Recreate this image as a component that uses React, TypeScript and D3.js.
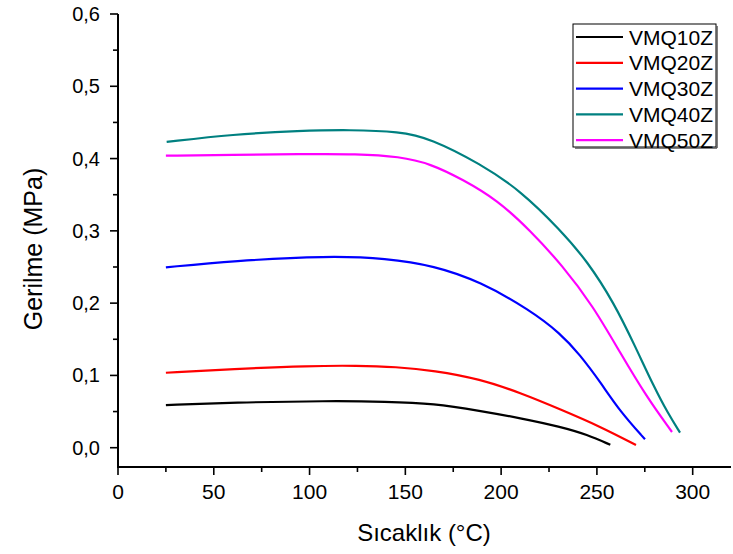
import React, { useEffect, useRef } from "react";
import * as d3 from "d3";

const seriesNames = ["VMQ10Z", "VMQ20Z", "VMQ30Z", "VMQ40Z", "VMQ50Z"];
const seriesColors = ["#000000", "#ff0000", "#0000ff", "#008080", "#ff00ff"];

const vmq10zX = [25, 60, 110, 140, 165, 189, 210, 231, 245, 257];
const vmq10zY = [0.059, 0.0625, 0.0648, 0.0638, 0.0612, 0.051, 0.041, 0.029, 0.018, 0.004];

const vmq20zX = [25, 60, 100, 125, 145, 165, 189, 210, 231, 252, 270.4];
const vmq20zY = [0.1037, 0.109, 0.1133, 0.1136, 0.1118, 0.1068, 0.095, 0.076, 0.053, 0.029, 0.0037];

const vmq30zX = [25, 60, 110, 140, 165, 189, 215, 231, 241, 252, 262, 275.1];
const vmq30zY = [0.2495, 0.2585, 0.2655, 0.262, 0.2518, 0.23, 0.1905, 0.158, 0.129, 0.09, 0.0505, 0.0116];

const vmq40zX = [25.4, 60, 95, 121, 147, 163, 189, 210, 231, 245, 259, 270, 280, 287, 293.4];
const vmq40zY = [0.423, 0.4335, 0.4385, 0.4398, 0.4375, 0.428, 0.393, 0.356, 0.301, 0.258, 0.2, 0.14, 0.083, 0.048, 0.0208];

const vmq50zX = [25, 60, 95, 125, 147, 163, 180, 198, 215, 232, 248, 262, 276, 289.2];
const vmq50zY = [0.404, 0.405, 0.4062, 0.4065, 0.4028, 0.393, 0.371, 0.3426, 0.301, 0.252, 0.196, 0.132, 0.07, 0.0217];

const xTicks = [0, 50, 100, 150, 200, 250, 300];
const yTicks = [0.0, 0.1, 0.2, 0.3, 0.4, 0.5, 0.6];
const xTitle = "Sıcaklık (°C)";
const yTitle = "Gerilme (MPa)";

const W = 733;
const H = 554;
const FONT = "Liberation Sans, Arial, sans-serif";

export default function App() {
  const ref = useRef<SVGSVGElement>(null);

  useEffect(() => {
    const svg = d3.select(ref.current);
    svg.selectAll("*").remove();

    const x = d3.scaleLinear().domain([0, 320]).range([118, 731]);
    const y = d3.scaleLinear().domain([0, 0.6]).range([447.7, 14]);
    const axisY = 467;

    const xs = [vmq10zX, vmq20zX, vmq30zX, vmq40zX, vmq50zX];
    const ys = [vmq10zY, vmq20zY, vmq30zY, vmq40zY, vmq50zY];

    const line = d3
      .line<[number, number]>()
      .x((d) => x(d[0]))
      .y((d) => y(d[1]))
      .curve(d3.curveBasis);

    const g = svg.append("g");
    xs.forEach((xa, i) => {
      const pts: [number, number][] = xa.map((v, j) => [v, ys[i][j]]);
      g.append("path")
        .attr("d", line(pts))
        .attr("fill", "none")
        .attr("stroke", seriesColors[i])
        .attr("stroke-width", 2.2)
        .attr("stroke-linecap", "butt");
    });

    // axes
    const ax = svg.append("g").attr("stroke", "#000").attr("stroke-width", 2);
    ax.append("line").attr("x1", x(0) - 1).attr("x2", x(320)).attr("y1", axisY).attr("y2", axisY);
    ax.append("line").attr("x1", x(0)).attr("x2", x(0)).attr("y1", axisY).attr("y2", y(0.6));

    const xMinor = d3.range(25, 320, 50);
    xTicks.forEach((t) => {
      ax.append("line").attr("x1", x(t)).attr("x2", x(t)).attr("y1", axisY).attr("y2", axisY + 8).attr("stroke-width", 1.6);
    });
    xMinor.forEach((t) => {
      ax.append("line").attr("x1", x(t)).attr("x2", x(t)).attr("y1", axisY).attr("y2", axisY + 5).attr("stroke-width", 1.6);
    });
    const yMinor = d3.range(0.05, 0.6, 0.1);
    yTicks.forEach((t) => {
      ax.append("line").attr("x1", x(0) - 8).attr("x2", x(0)).attr("y1", y(t)).attr("y2", y(t)).attr("stroke-width", 1.6);
    });
    yMinor.forEach((t) => {
      ax.append("line").attr("x1", x(0) - 5).attr("x2", x(0)).attr("y1", y(t)).attr("y2", y(t)).attr("stroke-width", 1.6);
    });

    const fmt = (v: number) => v.toFixed(1).replace(".", ",");
    svg
      .append("g")
      .selectAll("text")
      .data(xTicks)
      .join("text")
      .attr("x", (d) => x(d))
      .attr("y", 498.5)
      .attr("text-anchor", "middle")
      .attr("font-family", FONT)
      .attr("font-size", 21)
      .text((d) => String(d));
    svg
      .append("g")
      .selectAll("text")
      .data(yTicks)
      .join("text")
      .attr("x", 100)
      .attr("y", (d) => y(d) + 7)
      .attr("text-anchor", "end")
      .attr("font-family", FONT)
      .attr("font-size", 20)
      .text((d) => fmt(d));

    svg
      .append("text")
      .attr("x", 424)
      .attr("y", 541)
      .attr("text-anchor", "middle")
      .attr("font-family", FONT)
      .attr("font-size", 24)
      .text(xTitle);
    svg
      .append("text")
      .attr("transform", `translate(42,249) rotate(-90)`)
      .attr("text-anchor", "middle")
      .attr("font-family", FONT)
      .attr("font-size", 25)
      .text(yTitle);

    // legend
    const lg = svg.append("g");
    lg.append("rect").attr("x", 573).attr("y", 24).attr("width", 143).attr("height", 123).attr("fill", "#fff").attr("stroke", "#000").attr("stroke-width", 1);
    lg.append("line").attr("x1", 717).attr("x2", 717).attr("y1", 26).attr("y2", 148).attr("stroke", "#555").attr("stroke-width", 1.5);
    lg.append("line").attr("x1", 575).attr("x2", 717).attr("y1", 148).attr("y2", 148).attr("stroke", "#555").attr("stroke-width", 1.5);
    seriesNames.forEach((n, i) => {
      const cy = 37 + i * 25.8;
      lg.append("line").attr("x1", 576).attr("x2", 623).attr("y1", cy).attr("y2", cy).attr("stroke", seriesColors[i]).attr("stroke-width", 2.2);
      lg.append("text").attr("x", 629).attr("y", cy + 7.5).attr("font-family", FONT).attr("font-size", 21).text(n);
    });
  }, []);

  return (
    <svg
      ref={ref}
      width={W}
      height={H}
      style={{ position: "absolute", left: 0, top: 0, background: "#fff" }}
    />
  );
}
